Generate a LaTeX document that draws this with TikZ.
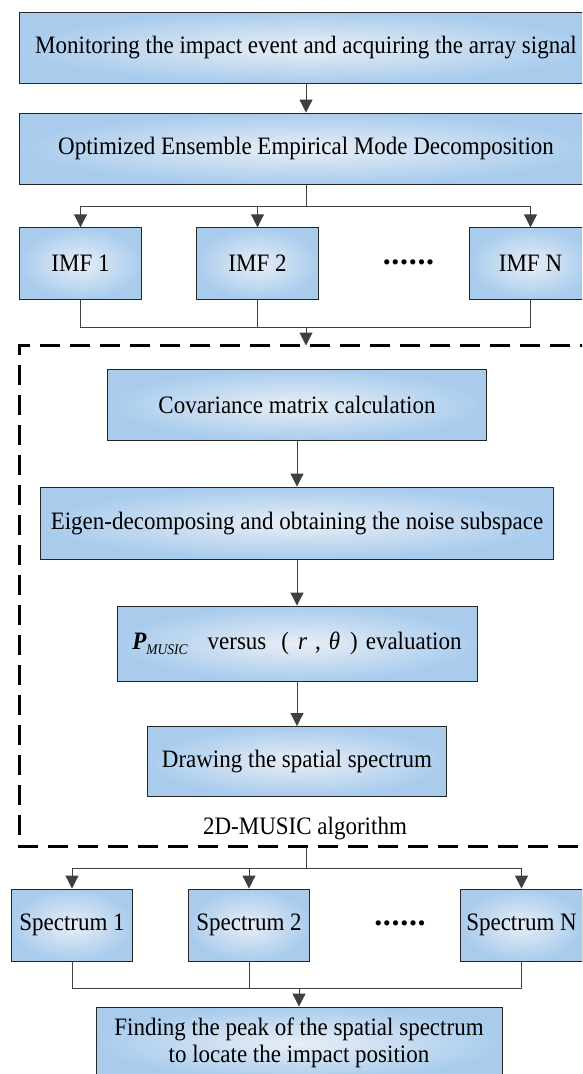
\documentclass[tikz,border=0pt]{standalone}
\usepackage{fontspec}
\usepackage{graphicx}
\setmainfont{Liberation Serif}
\usetikzlibrary{arrows.meta}
\definecolor{boxedge}{HTML}{A9CCED}
\definecolor{boxmid}{HTML}{E8EEF6}
\definecolor{linec}{HTML}{404040}
\newcommand{\vt}[1]{\scalebox{1}[1.09]{#1}}
\newcommand{\dotrow}{{\fontsize{32}{32}\selectfont\bfseries .\kern0.7pt.\kern0.7pt.\kern0.7pt.\kern0.7pt.\kern0.7pt.}}
\tikzset{
  blockbox/.style={draw=black!85, line width=0.9pt, inner color=boxmid, outer color=boxedge,
    inner sep=0pt, align=center, font=\fontsize{23}{27}\selectfont},
  conn/.style={draw=linec, line width=1pt},
  arr/.style={conn, -{Triangle[width=13pt,length=13pt]}},
  dashbox/.style={draw=black, line width=2.6pt, dash pattern=on 20pt off 10pt},
  plain/.style={font=\fontsize{23}{27}\selectfont, inner sep=0pt}
}
\begin{document}
\begin{tikzpicture}[x=1pt,y=-1pt]
\useasboundingbox (0,0) rectangle (582,1074);
\clip (0,0) rectangle (582,1074);
% dashed region
\draw[dashbox] (600,345.5) -- (19.5,345.5) -- (19.5,846.5) -- (600,846.5);
\coordinate (dtop) at (306,345.5);
\coordinate (dbot) at (306,846.5);
% top boxes
\node[blockbox, minimum width=574pt, minimum height=71pt] (mon) at (306,47.5) {\vt{Monitoring the impact event and acquiring the array signal}};
\node[blockbox, minimum width=574pt, minimum height=71pt] (eemd) at (306,148.5) {\vt{Optimized Ensemble Empirical Mode Decomposition}};
% IMF row
\node[blockbox, minimum width=121.5pt, minimum height=71.5pt] (imf1) at (80.5,263.5) {\vt{IMF 1}};
\node[blockbox, minimum width=121.5pt, minimum height=71.5pt] (imf2) at (257.5,263.5) {\vt{IMF 2}};
\node[blockbox, minimum width=121.5pt, minimum height=71.5pt] (imfn) at (530.5,263.5) {\vt{IMF N}};
\node[plain] (dots1) at (408.5,262.3) {\dotrow};
% inner boxes
\node[blockbox, minimum width=378.5pt, minimum height=71.5pt] (cov) at (297,405) {\vt{Covariance matrix calculation}};
\node[blockbox, minimum width=513.5pt, minimum height=72pt] (eig) at (297,523) {\vt{Eigen-decomposing and obtaining the noise subspace}};
\node[blockbox, minimum width=360pt, minimum height=75pt] (pm) at (297,643.5) {\vt{{\bfseries\itshape P}\raisebox{-5pt}{\fontsize{13.5}{13.5}\selectfont\itshape MUSIC}\hspace{20pt}versus\hspace{15pt}(\hspace{9pt}\textit{r}\hspace{8pt},\hspace{8pt}\textit{θ}\hspace{10pt})\hspace{8pt}evaluation}};
\node[blockbox, minimum width=299pt, minimum height=70pt] (spat) at (297,761.5) {\vt{Drawing the spatial spectrum}};
\node[plain] (alg) at (305,828) {\vt{2D-MUSIC algorithm}};
% Spectrum row
\node[blockbox, minimum width=121.8pt, minimum height=72pt] (sp1) at (72,925) {\vt{Spectrum 1}};
\node[blockbox, minimum width=121.8pt, minimum height=72pt] (sp2) at (249,925) {\vt{Spectrum 2}};
\node[blockbox, minimum width=121.8pt, minimum height=72pt] (spn) at (521.5,925) {\vt{Spectrum N}};
\node[plain] (dots2) at (400,923.3) {\dotrow};
\node[blockbox, minimum width=406pt, minimum height=72pt] (final) at (299,1043) {\vt{Finding the peak of the spatial spectrum}\\\vt{to locate the impact position}};
% connectors
\draw[arr] (mon) -- (eemd);
\draw[conn] (eemd.south) -- (306,206);
\draw[arr] (306,206) -| (imf1.north);
\draw[arr] (306,206) -| (imf2.north);
\draw[arr] (306,206) -| (imfn.north);
\draw[conn] (imf1.south) |- (530.5,327) -- (imfn.south);
\draw[conn] (imf2.south) -- (257.5,327);
\draw[arr] (306,327) -- (dtop);
\draw[arr] (cov) -- (eig);
\draw[arr] (eig) -- (pm);
\draw[arr] (pm) -- (spat);
\draw[conn] (dbot) -- (306,868);
\draw[arr] (306,868) -| (sp1.north);
\draw[arr] (306,868) -| (sp2.north);
\draw[arr] (306,868) -| (spn.north);
\draw[conn] (sp1.south) |- (521.5,988) -- (spn.south);
\draw[conn] (sp2.south) -- (249,988);
\draw[arr] (299,988) -- (final.north);
\end{tikzpicture}
\end{document}
